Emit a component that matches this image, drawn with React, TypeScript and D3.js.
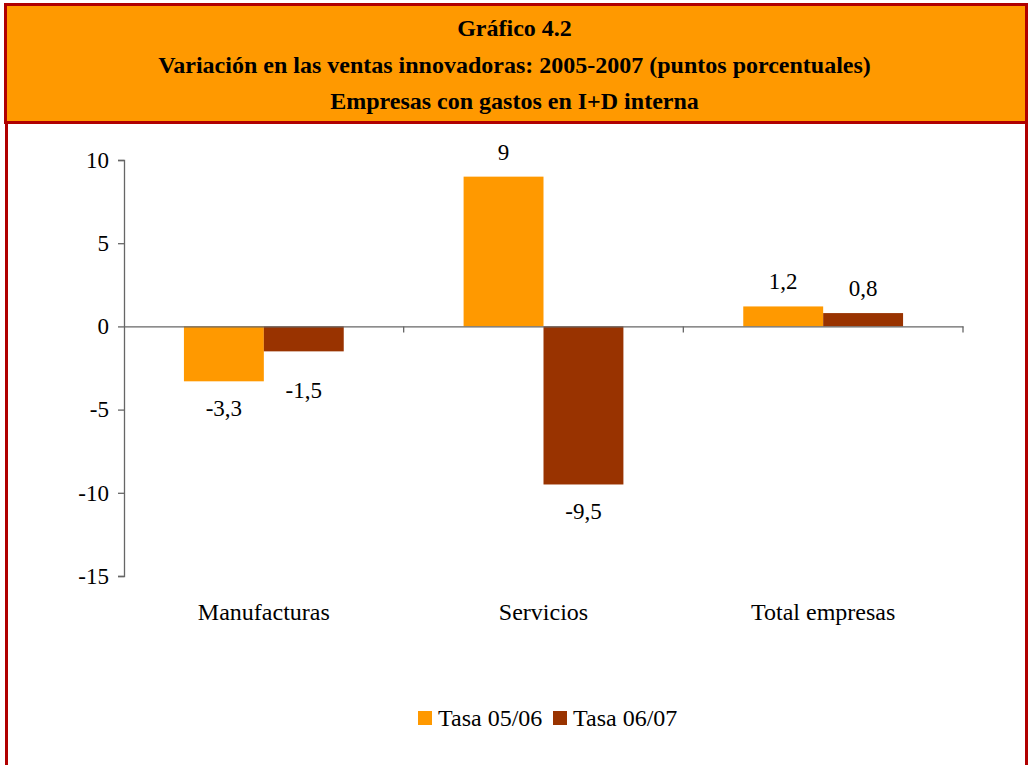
import { useEffect, useRef } from 'react';
import * as d3 from 'd3';

const titleLines = [
  'Gráfico 4.2',
  'Variación en las ventas innovadoras: 2005-2007 (puntos porcentuales)',
  'Empresas con gastos en I+D interna',
];
const categories = ['Manufacturas', 'Servicios', 'Total empresas'];
const seriesNames = ['Tasa 05/06', 'Tasa 06/07'];
const tasa0506 = [-3.3, 9, 1.2];
const tasa0607 = [-1.5, -9.5, 0.8];
const yTicks = [10, 5, 0, -5, -10, -15];
const colors = ['#FF9900', '#993300'];

const fmt = (v: number) => String(v).replace('.', ',');

const App = () => {
  const ref = useRef<SVGSVGElement>(null);

  useEffect(() => {
    const svg = d3.select(ref.current);
    svg.selectAll('*').remove();
    const width = 1029;
    const height = 765;
    const font = '"Liberation Serif", "Times New Roman", serif';

    // frame + header
    svg.append('rect').attr('width', width).attr('height', height).attr('fill', '#fff');
    svg.append('rect')
      .attr('x', 5.5).attr('y', 4.5).attr('width', 1021).attr('height', 118)
      .attr('fill', '#FF9900').attr('stroke', '#B00000').attr('stroke-width', 3);
    svg.append('line').attr('x1', 6.5).attr('x2', 6.5).attr('y1', 122).attr('y2', height)
      .attr('stroke', '#B00000').attr('stroke-width', 3);
    svg.append('line').attr('x1', 1026.5).attr('x2', 1026.5).attr('y1', 122).attr('y2', height)
      .attr('stroke', '#B00000').attr('stroke-width', 3);

    svg.append('g').selectAll('text').data(titleLines).join('text')
      .attr('x', width / 2)
      .attr('y', (_, i) => 36 + i * 36.5)
      .attr('text-anchor', 'middle')
      .attr('font-family', font)
      .attr('font-weight', 'bold')
      .attr('font-size', 24)
      .text(d => d);

    const margin = { left: 124, right: 963, top: 160, bottom: 576 };
    const y = d3.scaleLinear().domain([-15, 10]).range([margin.bottom, margin.top]);
    const x0 = d3.scaleBand().domain(categories).range([margin.left, margin.right]);
    const x1 = d3.scaleBand().domain(seriesNames).range([0, x0.bandwidth()]).paddingOuter(0.75).paddingInner(0);

    // y axis
    const yAxis = svg.append('g')
      .attr('transform', `translate(${margin.left},0)`)
      .call(d3.axisLeft(y).tickValues(yTicks).tickSize(6).tickPadding(9).tickFormat(d => String(d)));
    yAxis.select('.domain').attr('stroke', '#666').attr('stroke-width', 1.3);
    yAxis.selectAll('.tick line').attr('stroke', '#666').attr('stroke-width', 1.3);
    yAxis.selectAll('.tick text').attr('font-family', font).attr('font-size', 23).attr('fill', '#000');

    const rows = categories.map((c, i) => ({ c, vals: [tasa0506[i], tasa0607[i]] }));
    const nudge = [[0, 12], [0, 0], [0, 0]];

    const groups = svg.append('g').selectAll('g').data(rows).join('g')
      .attr('transform', d => `translate(${x0(d.c)},0)`);

    groups.selectAll('rect')
      .data(d => d.vals.map((v, j) => ({ v, s: seriesNames[j], j })))
      .join('rect')
      .attr('x', d => x1(d.s)!)
      .attr('width', x1.bandwidth())
      .attr('y', d => y(Math.max(0, d.v)))
      .attr('height', d => Math.abs(y(d.v) - y(0)))
      .attr('fill', d => colors[d.j]);

    groups.each(function (row, ri) {
      d3.select(this).selectAll('text')
        .data(row.vals.map((v, j) => ({ v, s: seriesNames[j], j })))
        .join('text')
        .attr('x', d => x1(d.s)! + x1.bandwidth() / 2)
        .attr('y', d => (d.v >= 0 ? y(d.v) - 17 : y(d.v) + 35 + nudge[ri][d.j]))
        .attr('text-anchor', 'middle')
        .attr('font-family', font)
        .attr('font-size', 23)
        .text(d => fmt(d.v));
    });

    // x axis at zero
    const xAxis = svg.append('g')
      .attr('transform', `translate(0,${y(0)})`)
      .call(d3.axisBottom(x0).tickSize(0).tickFormat(() => ''));
    xAxis.select('.domain').attr('stroke', '#666').attr('stroke-width', 1.3);
    svg.append('g').selectAll('line').data(categories).join('line')
      .attr('x1', d => x0(d)! + x0.bandwidth()).attr('x2', d => x0(d)! + x0.bandwidth())
      .attr('y1', y(0)).attr('y2', y(0) + 6)
      .attr('stroke', '#666').attr('stroke-width', 1.3);

    svg.append('g').selectAll('text').data(categories).join('text')
      .attr('x', d => x0(d)! + x0.bandwidth() / 2)
      .attr('y', 620)
      .attr('text-anchor', 'middle')
      .attr('font-family', font)
      .attr('font-size', 24)
      .text(d => d);

    // legend
    const legend = svg.append('g');
    const lx = [418, 553];
    seriesNames.forEach((n, i) => {
      legend.append('rect').attr('x', lx[i]).attr('y', 711).attr('width', 14).attr('height', 14).attr('fill', colors[i]);
      legend.append('text').attr('x', lx[i] + 20).attr('y', 726)
        .attr('font-family', font).attr('font-size', 24).text(n);
    });
  }, []);

  return (
    <svg ref={ref} width={1029} height={765} style={{ display: 'block', position: 'absolute', left: 0, top: 0 }} />
  );
};

export default App;
